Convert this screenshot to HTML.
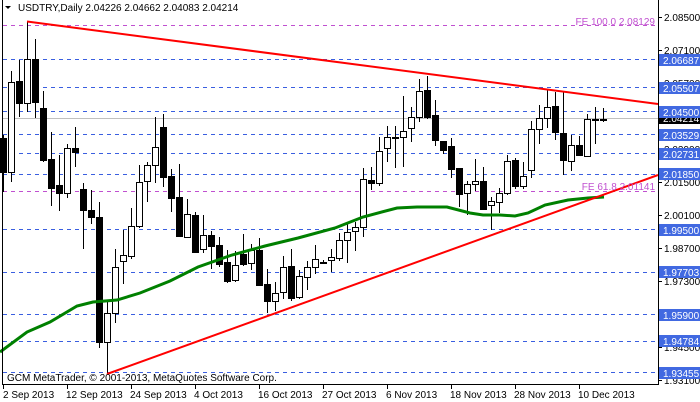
<!DOCTYPE html>
<html><head><meta charset="utf-8"><style>
html,body{margin:0;padding:0;background:#fff;}
svg{display:block;font-family:"Liberation Sans",sans-serif;}
</style></head><body>
<svg id="c" width="700" height="402" xmlns="http://www.w3.org/2000/svg">
<rect width="700" height="402" fill="#fff"/>
<g id="hl" stroke-dasharray="4,4" stroke-width="1">
<line x1="3" x2="658" y1="25.5" y2="25.5" stroke="#c050d0"/>
<line x1="3" x2="658" y1="59.5" y2="59.5" stroke="#3a5fe0"/>
<line x1="3" x2="658" y1="87.5" y2="87.5" stroke="#3a5fe0"/>
<line x1="3" x2="658" y1="111.5" y2="111.5" stroke="#3a5fe0"/>
<line x1="3" x2="658" y1="134.5" y2="134.5" stroke="#3a5fe0"/>
<line x1="3" x2="658" y1="153.5" y2="153.5" stroke="#3a5fe0"/>
<line x1="3" x2="658" y1="174.5" y2="174.5" stroke="#3a5fe0"/>
<line x1="3" x2="658" y1="191.5" y2="191.5" stroke="#c050d0"/>
<line x1="3" x2="658" y1="229.5" y2="229.5" stroke="#3a5fe0"/>
<line x1="3" x2="658" y1="272.5" y2="272.5" stroke="#3a5fe0"/>
<line x1="3" x2="658" y1="314.5" y2="314.5" stroke="#3a5fe0"/>
<line x1="3" x2="658" y1="341.5" y2="341.5" stroke="#3a5fe0"/>
<line x1="3" x2="658" y1="372.5" y2="372.5" stroke="#3a5fe0"/>
</g>
<line x1="3" x2="658" y1="118.5" y2="118.5" stroke="#c0c0c0"/>
<g id="candles"></g>
<polyline fill="none" stroke="#008000" stroke-width="3" points="0,352 27,332 50,322 77,306 93,302 117,300 140,293 170,281 198,267 232,255 265,246 298,238 335,228 363,217 397,208 417,207 447,207 470,213 483,215 500,215 515,216 528,213 545,205 568,200 588,198 604,197"/>
<line x1="27" y1="21.5" x2="658" y2="104" stroke="#ff0000" stroke-width="2"/>
<line x1="107" y1="374" x2="658" y2="175" stroke="#ff0000" stroke-width="2"/>
<text x="655" y="25" font-size="10" fill="#c050d0" text-anchor="end">FE 100.0 2.08129</text>
<text x="655" y="190" font-size="10" fill="#c050d0" text-anchor="end">FE 61.8 2.01141</text>
<text x="7" y="381" font-size="10" fill="#000">GCM MetaTrader, © 2001-2013, MetaQuotes Software Corp.</text>
<path d="M5,6 L11,6 L8,9 Z" fill="#000"/>
<text x="18" y="11" font-size="10" fill="#000">USDTRY,Daily  2.04226 2.04662 2.04083 2.04214</text>
<line x1="2.5" y1="0" x2="2.5" y2="384.5" stroke="#000"/>
<line x1="2" y1="384.5" x2="658.5" y2="384.5" stroke="#000"/>
<line x1="658.5" y1="0" x2="658.5" y2="385" stroke="#000"/>
<g font-size="10" fill="#000">
<g stroke="#000"><line x1="658" x2="662" y1="17.5" y2="17.5"/><line x1="658" x2="662" y1="50.5" y2="50.5"/><line x1="658" x2="662" y1="83.5" y2="83.5"/><line x1="658" x2="662" y1="116.5" y2="116.5"/><line x1="658" x2="662" y1="149.5" y2="149.5"/><line x1="658" x2="662" y1="182.5" y2="182.5"/><line x1="658" x2="662" y1="215.5" y2="215.5"/><line x1="658" x2="662" y1="248.5" y2="248.5"/><line x1="658" x2="662" y1="281.5" y2="281.5"/><line x1="658" x2="662" y1="314.5" y2="314.5"/><line x1="658" x2="662" y1="347.5" y2="347.5"/><line x1="658" x2="662" y1="380.5" y2="380.5"/></g>
<text x="664" y="21">2.08500</text><text x="664" y="54">2.07100</text><text x="664" y="87">2.05700</text><text x="664" y="120">2.04300</text><text x="664" y="153">2.02900</text><text x="664" y="186">2.01500</text><text x="664" y="219">2.00100</text><text x="664" y="252">1.98700</text><text x="664" y="285">1.97300</text><text x="664" y="318">1.95900</text><text x="664" y="351">1.94500</text><text x="664" y="384">1.93100</text>
</g>
<g font-size="10" fill="#fff">
<rect x="659" y="113" width="41" height="11" fill="#000"/><text x="663" y="122">2.04214</text>
<rect x="659" y="54" width="41" height="12" fill="#4169e1"/><text x="663" y="64">2.06687</text>
<rect x="659" y="82" width="41" height="12" fill="#4169e1"/><text x="663" y="92">2.05507</text>
<rect x="659" y="106" width="41" height="12" fill="#4169e1"/><text x="663" y="116">2.04500</text>
<rect x="659" y="129" width="41" height="12" fill="#4169e1"/><text x="663" y="139">2.03529</text>
<rect x="659" y="148" width="41" height="12" fill="#4169e1"/><text x="663" y="158">2.02731</text>
<rect x="659" y="168" width="41" height="12" fill="#4169e1"/><text x="663" y="178">2.01850</text>
<rect x="659" y="224" width="41" height="12" fill="#4169e1"/><text x="663" y="234">1.99500</text>
<rect x="659" y="266" width="41" height="12" fill="#4169e1"/><text x="663" y="276">1.97703</text>
<rect x="659" y="309" width="41" height="12" fill="#4169e1"/><text x="663" y="319">1.95900</text>
<rect x="659" y="335" width="41" height="12" fill="#4169e1"/><text x="663" y="345">1.94784</text>
<rect x="659" y="367" width="41" height="12" fill="#4169e1"/><text x="663" y="377">1.93455</text>
</g>
<g stroke="#000"><line x1="3.5" x2="3.5" y1="384" y2="389"/><line x1="67.5" x2="67.5" y1="384" y2="389"/><line x1="131.5" x2="131.5" y1="384" y2="389"/><line x1="195.5" x2="195.5" y1="384" y2="389"/><line x1="259.5" x2="259.5" y1="384" y2="389"/><line x1="323.5" x2="323.5" y1="384" y2="389"/><line x1="387.5" x2="387.5" y1="384" y2="389"/><line x1="451.5" x2="451.5" y1="384" y2="389"/><line x1="515.5" x2="515.5" y1="384" y2="389"/><line x1="579.5" x2="579.5" y1="384" y2="389"/></g>
<g font-size="10" fill="#000">
<text x="3" y="398">2 Sep 2013</text><text x="66" y="398">12 Sep 2013</text><text x="130" y="398">24 Sep 2013</text><text x="194" y="398">4 Oct 2013</text><text x="258" y="398">16 Oct 2013</text><text x="322" y="398">27 Oct 2013</text><text x="386" y="398">6 Nov 2013</text><text x="450" y="398">18 Nov 2013</text><text x="514" y="398">28 Nov 2013</text><text x="578" y="398">10 Dec 2013</text>
</g>
</svg>
<script>
var d=[[138,172,135,192,0],[82,172,71,182,1],[81,103,60,117,0],[59,103,22,112,1],[59,102,39,118,0],[108,160,91,162,0],[159,188,132,206,0],[185,193,155,211,0],[148,193,144,198,1],[148,152,127,167,0],[189,210,183,249,0],[210,217,190,224,0],[217,342,202,348,0],[313,342,302,373,1],[267,313,249,323,1],[255,261,230,284,1],[226,256,208,259,1],[182,226,165,228,1],[165,181,162,202,1],[147,165,117,183,1],[127,177,114,187,0],[176,198,169,212,0],[197,236,164,236,0],[214,237,199,237,1],[215,252,212,252,0],[235,249,215,253,1],[235,246,231,269,0],[245,264,237,267,0],[262,281,250,283,0],[265,280,251,282,1],[254,264,234,266,0],[250,263,244,270,1],[250,285,238,286,0],[284,301,269,313,0],[293,301,282,311,1],[267,292,256,299,1],[266,298,249,301,0],[276,297,270,299,1],[267,277,261,290,1],[259,267,245,274,1],[262,263,260,264,0],[257,260,249,272,1],[240,258,233,261,1],[232,240,223,263,1],[227,231,222,251,1],[179,227,168,237,1],[180,183,167,190,0],[151,183,137,186,1],[137,148,126,162,1],[137,138,126,168,0],[131,137,96,167,1],[117,128,107,142,1],[91,117,79,122,1],[90,117,76,119,0],[115,140,100,146,0],[141,150,141,154,0],[146,169,138,178,0],[168,194,168,207,0],[184,193,181,215,1],[181,184,159,191,1],[181,209,167,209,0],[201,205,197,230,1],[193,202,188,213,1],[161,193,155,195,1],[160,186,158,189,0],[176,186,162,189,1],[129,170,121,178,1],[118,129,105,144,1],[107,118,89,128,1],[106,132,92,140,0],[133,160,92,175,0],[145,161,135,171,1],[145,155,136,156,0],[119,156,114,156,1],[119,120,107,144,0],[119,119,108,122,0]];
var g=document.getElementById('candles'),s='';
d.forEach(function(c,i){var x=3+8*i;
s+='<line x1="'+(x+.5)+'" x2="'+(x+.5)+'" y1="'+c[2]+'" y2="'+c[3]+'" stroke="#000"/>';
var h=Math.max(c[1]-c[0],1);
if(c[4])s+='<rect x="'+(x-2.5)+'" y="'+(c[0]+.5)+'" width="6" height="'+h+'" fill="#fff" stroke="#000"/>';
else s+='<rect x="'+(x-3)+'" y="'+c[0]+'" width="7" height="'+(h+1)+'" fill="#000"/>';});
g.innerHTML=s;
</script>
</body></html>
